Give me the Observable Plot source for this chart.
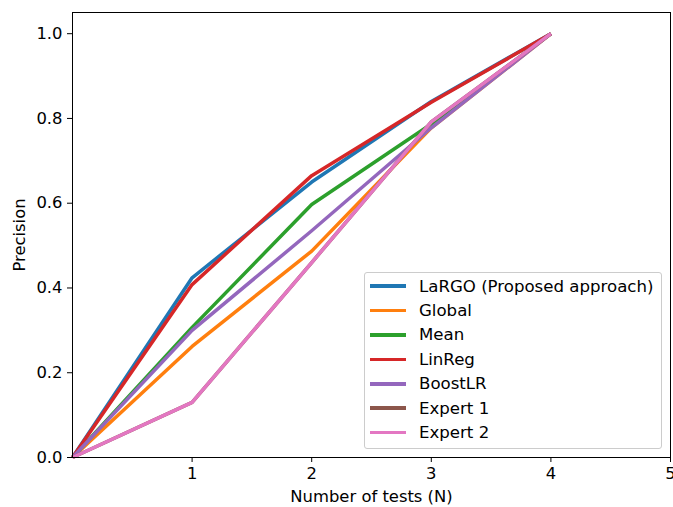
<!DOCTYPE html>
<html>
<head>
<meta charset="utf-8">
<script src="https://cdn.jsdelivr.net/npm/d3@7"></script>
<script src="https://cdn.jsdelivr.net/npm/@observablehq/plot@0.6"></script>
<style>
  html, body { margin: 0; padding: 0; background: #fff; overflow: hidden; }
  #wrap { position: relative; width: 673px; height: 507px; font-family: "DejaVu Sans", sans-serif; }
  #legend { position: absolute; left: 364px; top: 272px; width: 296px; height: 174px; border: 1px solid #cccccc; border-radius: 3px; background: rgba(255,255,255,0.8); box-sizing: content-box; padding-top: 1px; }
  .row { display: flex; align-items: center; height: 24.4px; font-size: 16.6px; color: #000; }
  .sw { width: 36px; height: 3.5px; margin-left: 5px; margin-right: 13px; }
</style>
</head>
<body>
<div id="wrap"></div>
<script>
const xs = [0, 1, 2, 3, 4];
const seriesNames = ["LaRGO (Proposed approach)", "Global", "Mean", "LinReg", "BoostLR", "Expert 1", "Expert 2"];
const seriesColors = ["#1f77b4", "#ff7f0e", "#2ca02c", "#d62728", "#9467bd", "#8c564b", "#e377c2"];
const largo   = [0, 0.424, 0.650, 0.840, 1.0];
const global  = [0, 0.262, 0.487, 0.778, 1.0];
const mean    = [0, 0.307, 0.597, 0.787, 1.0];
const linreg  = [0, 0.408, 0.665, 0.838, 1.0];
const boostlr = [0, 0.300, 0.535, 0.778, 1.0];
const expert1 = [0, 0.130, 0.460, 0.792, 1.0];
const expert2 = [0, 0.130, 0.460, 0.792, 1.0];
const xTicks = [1, 2, 3, 4, 5];
const yTicks = [0, 0.2, 0.4, 0.6, 0.8, 1.0];
const xLabel = "Number of tests (N)";
const yLabel = "Precision";

const allSeries = [largo, global, mean, linreg, boostlr, expert1, expert2];
const lineMarks = allSeries.map((vals, i) =>
  Plot.line(xs.map((x, j) => ({x, y: vals[j], s: seriesNames[i]})), {
    x: "x", y: "y", stroke: seriesColors[i], strokeWidth: 3.5, strokeLinejoin: "round", strokeLinecap: "butt"
  })
);

const chart = Plot.plot({
  width: 673,
  height: 507,
  marginLeft: 72,
  marginRight: 3,
  marginTop: 12,
  marginBottom: 50,
  style: { fontFamily: "DejaVu Sans, sans-serif", fontSize: "16.4px", color: "#000", background: "#fff", overflow: "visible" },
  x: { domain: [0, 5] },
  y: { domain: [0, 1.05] },
  marks: [
    ...lineMarks,
    Plot.frame({ stroke: "#000", strokeWidth: 1 }),
    Plot.axisX(xTicks, { tickSize: 5, tickPadding: 5, label: null, tickFormat: d3.format("d"), stroke: "#000", fill: "#000" }),
    Plot.axisY(yTicks, { tickSize: 5, tickPadding: 5, label: null, tickFormat: d3.format(".1f"), stroke: "#000", fill: "#000" }),
    Plot.text([xLabel], { frameAnchor: "bottom", dy: 39, lineAnchor: "middle", fill: "#000" }),
    Plot.text([yLabel], { frameAnchor: "left", dx: -53, rotate: -90, lineAnchor: "middle", textAnchor: "middle", fill: "#000" })
  ]
});

const wrap = document.getElementById("wrap");
wrap.appendChild(chart);

const legend = document.createElement("div");
legend.id = "legend";
seriesNames.forEach((name, i) => {
  const row = document.createElement("div");
  row.className = "row";
  const sw = document.createElement("div");
  sw.className = "sw";
  sw.style.background = seriesColors[i];
  const lab = document.createElement("span");
  lab.textContent = name;
  row.appendChild(sw);
  row.appendChild(lab);
  legend.appendChild(row);
});
wrap.appendChild(legend);
</script>
</body>
</html>
